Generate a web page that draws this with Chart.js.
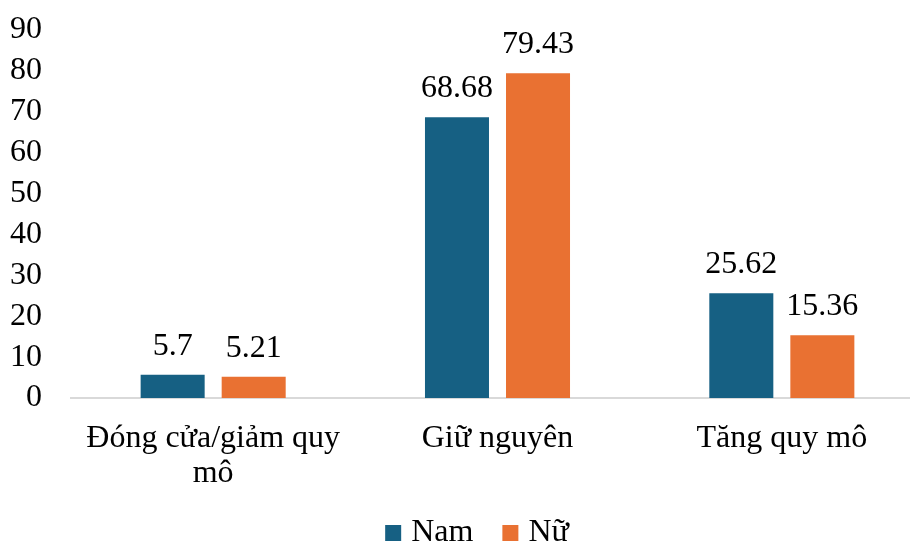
<!DOCTYPE html>
<html>
<head>
<meta charset="utf-8">
<script src="https://cdn.jsdelivr.net/npm/chart.js@4"></script>
<style>
    html, body { margin: 0; padding: 0; background: #fff; overflow: hidden; }
    #wrap { width: 940px; height: 543px; }
</style>
</head>
<body>
<div id="wrap"><canvas id="chart" width="940" height="543"></canvas></div>
<script>
// Data
const categories = [['Đóng cửa/giảm quy', 'mô'], 'Giữ nguyên', 'Tăng quy mô'];
const namValues = [5.7, 68.68, 25.62];
const nuValues = [5.21, 79.43, 15.36];
const seriesNames = ['Nam', 'Nữ'];

const FONT = "'Liberation Serif', 'Times New Roman', serif";
const BLUE = '#166083';
const ORANGE = '#E97132';

// Value labels above bars
const valueLabels = {
    id: 'valueLabels',
    afterDatasetsDraw(chart) {
        const ctx = chart.ctx;
        ctx.save();
        ctx.font = `32px ${FONT}`;
        ctx.fillStyle = '#000';
        ctx.textAlign = 'center';
        ctx.textBaseline = 'alphabetic';
        chart.data.datasets.forEach((ds, i) => {
            chart.getDatasetMeta(i).data.forEach((bar, j) => {
                ctx.fillText(String(ds.data[j]), bar.x, bar.y - 20);
            });
        });
        ctx.restore();
    }
};

// Bottom legend, drawn from the datasets
const bottomLegend = {
    id: 'bottomLegend',
    afterDraw(chart) {
        const ctx = chart.ctx;
        const box = 16, gap = 10, itemGap = 29, baseline = 541, centerX = 477;
        ctx.save();
        ctx.font = `32px ${FONT}`;
        ctx.textBaseline = 'alphabetic';
        ctx.textAlign = 'left';
        const items = chart.data.datasets.map(ds => ({
            text: ds.label, color: ds.backgroundColor, w: ctx.measureText(ds.label).width
        }));
        const total = items.reduce((s, it) => s + box + gap + it.w, 0) + itemGap * (items.length - 1);
        let x = centerX - total / 2;
        items.forEach(it => {
            ctx.fillStyle = it.color;
            ctx.fillRect(x, baseline - box, box, box);
            ctx.fillStyle = '#000';
            ctx.fillText(it.text, x + box + gap, baseline);
            x += box + gap + it.w + itemGap;
        });
        ctx.restore();
    }
};

new Chart(document.getElementById('chart'), {
    type: 'bar',
    data: {
        labels: categories,
        datasets: [
            { label: seriesNames[0], data: namValues, backgroundColor: BLUE },
            { label: seriesNames[1], data: nuValues, backgroundColor: ORANGE }
        ]
    },
    options: {
        responsive: false,
        devicePixelRatio: 1,
        animation: false,
        layout: { padding: { top: 30, right: 16, left: 0, bottom: 0 } },
        datasets: {
            bar: { barPercentage: 0.79, categoryPercentage: 0.57 }
        },
        scales: {
            y: {
                min: 0,
                max: 90,
                ticks: { stepSize: 10, autoSkip: false, color: '#000', padding: 29, font: { family: FONT, size: 32, lineHeight: 1 } },
                grid: { display: false, drawTicks: false },
                border: { display: false },
                afterFit(scale) { scale.width = 71; scale.paddingTop = 0; }
            },
            x: {
                ticks: { color: '#000', padding: 23, maxRotation: 0, autoSkip: false, font: { family: FONT, size: 32, lineHeight: 1.1 } },
                grid: { display: false, drawTicks: false },
                border: { display: true, color: '#d9d9d9', width: 2 },
                afterFit(scale) { scale.height = 145; }
            }
        },
        plugins: {
            legend: { display: false },
            tooltip: { enabled: false }
        }
    },
    plugins: [valueLabels, bottomLegend]
});
</script>
</body>
</html>
